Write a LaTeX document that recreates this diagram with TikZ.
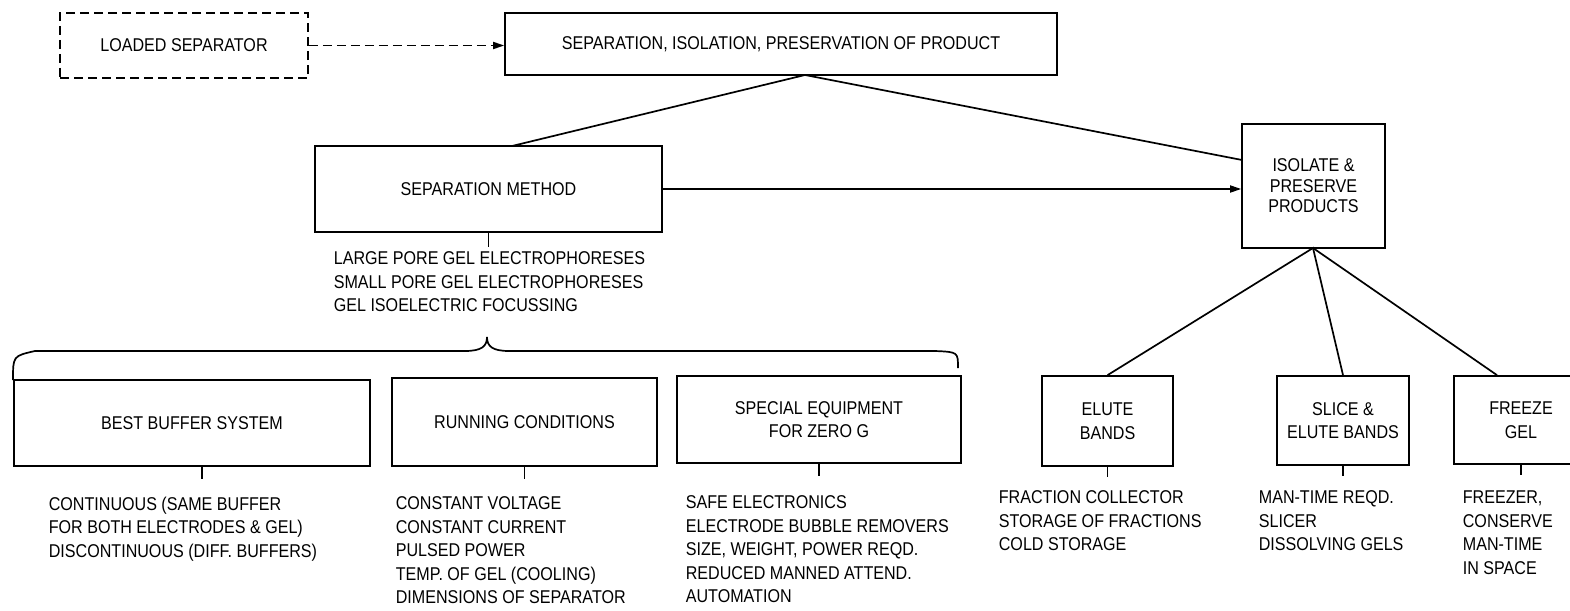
\documentclass[tikz,border=0pt]{standalone}
\usepackage{fontspec}
\setmainfont{Liberation Sans}[FakeStretch=0.87]
\usetikzlibrary{arrows.meta,calc}
\begin{document}
\begin{tikzpicture}[x=1pt,y=-1pt,line width=1.7pt,
  txt/.style={font=\fontsize{18.5}{23.5}\selectfont},
  box/.style={draw,inner sep=0pt,align=center,txt},
  lst/.style={anchor=north west,inner sep=0pt,align=left,txt},
  arr/.style={-{Triangle[length=11pt,width=7pt]}},
  dsh/.style={dash pattern=on 9pt off 5pt}]
\useasboundingbox (0,0) rectangle (1570,610);
% top row
\node[box,dsh,minimum width=248pt,minimum height=65pt] (load) at (184,45.5) {LOADED SEPARATOR};
\node[box,minimum width=552pt,minimum height=62pt] (top) at (781,44) {SEPARATION, ISOLATION, PRESERVATION OF PRODUCT};
\draw[dsh,arr] (load.east) -- (load.east -| top.west);
% middle
\node[box,minimum width=347pt,minimum height=86pt] (sep) at (488.5,189) {SEPARATION METHOD};
\node[box,minimum width=143pt,minimum height=124pt,font=\fontsize{18.5}{20.5}\selectfont] (iso) at (1313.5,186) {ISOLATE \&\\PRESERVE\\PRODUCTS};
\coordinate (tj) at (805,75);
\coordinate (sj) at (512,146);
\coordinate (ij) at (1242,160);
\coordinate (ib) at (1313,248);
\draw (sj) -- (tj) -- (ij);
\draw[arr] (sep.east) -- (sep.east -| iso.west);
\draw (sep.south) -- ++(0,14);
\node[lst] (seplist) at (333,251) {LARGE PORE GEL ELECTROPHORESES\\SMALL PORE GEL ELECTROPHORESES\\GEL ISOELECTRIC FOCUSSING};
% brace
\draw (13,380) .. controls (13,356) .. (35,351) -- (465,351) .. controls (482,351) and (487,346) .. (487,337) .. controls (487,346) and (492,351) .. (509,351) -- (935,351) .. controls (958,352) .. (958,368);
% bottom left boxes
\node[box,minimum width=356pt,minimum height=86pt] (best) at (192,423) {BEST BUFFER SYSTEM};
\node[box,minimum width=265pt,minimum height=88pt] (run) at (524.5,422) {RUNNING CONDITIONS};
\node[box,minimum width=284pt,minimum height=87pt] (spec) at (819,419.5) {SPECIAL EQUIPMENT\\FOR ZERO G};
\draw ($(best.south)+(10,0)$) -- ++(0,12);
\draw (run.south) -- ++(0,12);
\draw (spec.south) -- ++(0,12);
\node[lst] (bestlist) at (48,496) {CONTINUOUS (SAME BUFFER\\FOR BOTH ELECTRODES \& GEL)\\DISCONTINUOUS (DIFF. BUFFERS)};
\node[lst] (runlist) at (395,496) {CONSTANT VOLTAGE\\CONSTANT CURRENT\\PULSED POWER\\TEMP. OF GEL (COOLING)\\DIMENSIONS OF SEPARATOR};
\node[lst] (speclist) at (685,495) {SAFE ELECTRONICS\\ELECTRODE BUBBLE REMOVERS\\SIZE, WEIGHT, POWER REQD.\\REDUCED MANNED ATTEND.\\AUTOMATION};
% right boxes
\node[box,minimum width=131pt,minimum height=90pt] (elute) at (1107.5,421) {ELUTE\\BANDS};
\node[box,minimum width=132pt,minimum height=89pt] (slice) at (1343,420.5) {SLICE \&\\ELUTE BANDS};
\node[box,minimum width=134pt,minimum height=88pt] (freeze) at (1521,420) {FREEZE\\GEL};
\draw (elute.north) -- (ib) -- (slice.north);
\draw (ib) -- ($(freeze.north)+(-24,0)$);
\draw (elute.south) -- ++(0,10);
\draw (slice.south) -- ++(0,10);
\draw (freeze.south) -- ++(0,10);
\node[lst] (elutelist) at (998,490) {FRACTION COLLECTOR\\STORAGE OF FRACTIONS\\COLD STORAGE};
\node[lst] (slicelist) at (1258,490) {MAN-TIME REQD.\\SLICER\\DISSOLVING GELS};
\node[lst] (freezelist) at (1462,490) {FREEZER,\\CONSERVE\\MAN-TIME\\IN SPACE};
\end{tikzpicture}
\end{document}
